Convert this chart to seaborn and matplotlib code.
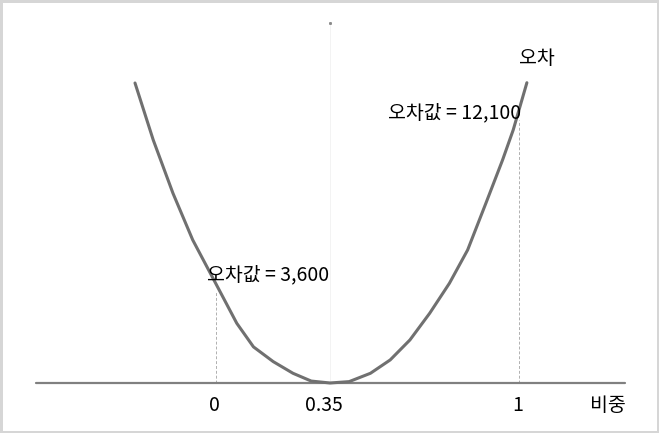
import matplotlib
matplotlib.use('Agg')
from matplotlib import pyplot as plt
from matplotlib.patches import Rectangle
import pandas as pd
import seaborn as sns

# curve (비중 vs 오차, schematic units)
weight = [-0.265, -0.205, -0.14, -0.075, 0.0, 0.07, 0.125, 0.19, 0.255, 0.315, 0.377,
          0.44, 0.51, 0.575, 0.64, 0.705, 0.77, 0.83, 0.89, 0.945, 0.98, 1.025]
error = [10800, 8750, 6830, 5150, 3600, 2150, 1300, 770, 350, 70, 0,
         50, 350, 830, 1550, 2510, 3590, 4790, 6470, 8030, 9110, 10810]

tick_pos = [0, 0.377, 1]
tick_labels = ['0', '0.35', '1']
guide_x = [0, 1]
guide_top = [3290, 9470]
notes = ['오차값 = 3,600', '오차값 = 12,100']
note_x = [-0.028, 0.568]
note_y = [3890, 9720]

df = pd.DataFrame({'비중': weight, '오차': error})

sns.set_style('white')
plt.rcParams['font.family'] = ['Noto Sans CJK KR', 'DejaVu Sans']
plt.rcParams['text.color'] = 'black'

fig = plt.figure(figsize=(6.59, 4.33), dpi=100)
ax = fig.add_axes([0, 0, 1, 1])

# faint centre guide
ax.vlines(0.377, 0, 13000, color='#f3f3f3', lw=0.7)
ax.plot([0.377], [12970], marker='s', ms=1.1, color='#8a8a8a', lw=0)

# dashed guides at 0 and 1
ax.vlines(guide_x, 0, guide_top, color='#b0b0b0', lw=0.7, linestyles=(0, (3, 2)))

# x axis
ax.axhline(0, xmin=36 / 659, xmax=625 / 659, color='#808080', lw=1.6)

sns.lineplot(data=df, x='비중', y='오차', ax=ax, color='#707070', lw=2.2)

for p, lab in zip(tick_pos, tick_labels):
    ax.text(p - (0.02 if lab == '0.35' else 0.005), -800, lab, ha='center', va='center',
            fontsize=14, color='black')

for t, x, y in zip(notes, note_x, note_y):
    ax.text(x, y, t, ha='left', va='center', fontsize=14, color='black')

ax.text(1.058, 11700, '오차', ha='center', va='center', fontsize=14, color='black')
ax.text(1.292, -800, '비중', ha='center', va='center', fontsize=14, color='black')

ax.set_xlim(-0.7094, 1.4599)
ax.set_ylim(-1800, 13788)
ax.set_axis_off()

fig.patches.append(Rectangle((0, 0), 1, 1, transform=fig.transFigure, fill=False,
                             ec='#d6d6d6', lw=3.6))

fig.savefig('out.png', dpi=100)
